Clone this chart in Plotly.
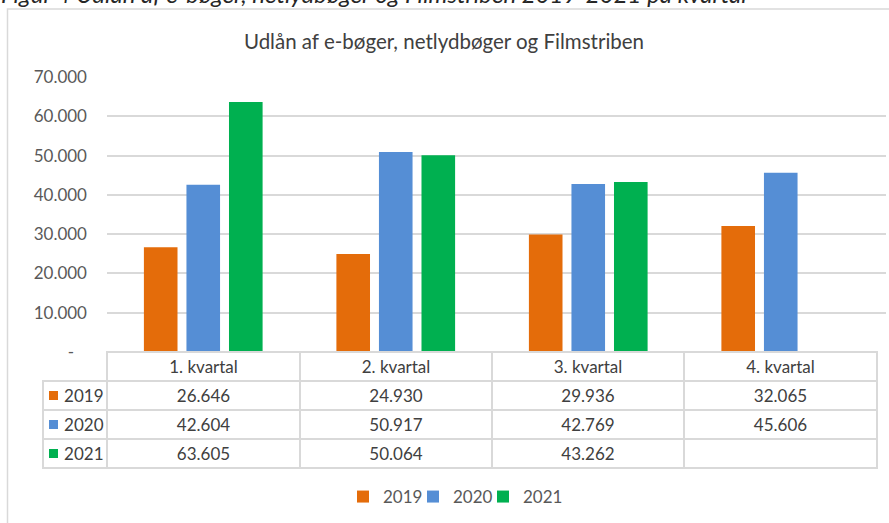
import plotly.graph_objects as go

quarters = ["1. kvartal", "2. kvartal", "3. kvartal", "4. kvartal"]
years = ["2019", "2020", "2021"]
v2019 = [26646, 24930, 29936, 32065]
v2020 = [42604, 50917, 42769, 45606]
v2021 = [63605, 50064, 43262, None]
year_colors = ["#E46C0A", "#558ED5", "#00B050"]
ytick_vals = [0, 10000, 20000, 30000, 40000, 50000, 60000, 70000]

series = [v2019, v2020, v2021]


def fmt(v):
    if v is None:
        return ""
    return f"{v:,}".replace(",", ".")


ytick_text = ["-\u00a0\u00a0\u00a0" if t == 0 else fmt(t) for t in ytick_vals]

FONT = "Lato, 'Open Sans', sans-serif"
GRID = "#D9D9D9"
TXT = "#404040"
FS = 17
CLEAR = "rgba(0,0,0,0)"

# ---- layout geometry (pixels in the 889x523 page) ----
W, H = 889, 523
ML, MR, MT, MB = 43, 3, 77, 54
plot_left_px, table_right_px = 107, 877
plot_bottom_px = 352
row_top_px, row_bottom_px = 381, 468
swatch_px = 53.5
paper_w = W - ML - MR
paper_h = H - MT - MB


def px_x(p):
    return (p - ML) / paper_w


def px_y(p):
    return (H - MB - p) / paper_h


x_dom0 = px_x(plot_left_px)
tab_x1 = px_x(table_right_px)
y_dom0 = px_y(plot_bottom_px)
cat_w = (table_right_px - plot_left_px) / len(quarters)
x_range = [-0.5, len(quarters) - 0.5 + (W - MR - table_right_px) / cat_w]

fig = go.Figure()
for name, vals, col in zip(years, series, year_colors):
    fig.add_trace(go.Bar(x=quarters, y=vals, name=name, marker_color=col,
                         marker_line_width=0, xaxis="x", yaxis="y",
                         legendwidth=45 if name == years[-1] else None))

# colour swatches of the data-table legend column
fig.add_trace(go.Scatter(x=[0] * len(years), y=years, mode="markers",
                         marker=dict(symbol="square", size=9, color=year_colors,
                                     line=dict(width=0)),
                         xaxis="x2", yaxis="y2", showlegend=False,
                         hoverinfo="skip"))

# data table under the plot
cols = [years] + [[fmt(s[i]) for s in series] for i in range(len(quarters))]
fig.add_trace(go.Table(
    domain=dict(x=[0, tab_x1], y=[0, y_dom0]),
    columnwidth=[64, 193, 192, 192, 193],
    header=dict(values=[""] + quarters,
                fill=dict(color=[CLEAR] + ["white"] * 4),
                line=dict(color=[CLEAR] + [GRID] * 4, width=1.5),
                align="center", height=29,
                font=dict(family=FONT, size=FS, color=TXT)),
    cells=dict(values=cols, fill=dict(color=[CLEAR] + ["white"] * 4),
               line=dict(color=GRID, width=1.5),
               prefix=["\u00a0\u00a0\u00a0", "", "", "", ""],
               align=["left"] + ["center"] * 4, height=29,
               font=dict(family=FONT, size=FS, color=TXT)),
))

fig.update_layout(
    width=W, height=H,
    margin=dict(l=ML, r=MR, t=MT, b=MB, autoexpand=False),
    paper_bgcolor="white", plot_bgcolor="white",
    font=dict(family=FONT, size=FS, color="#595959"),
    title=dict(text="Udlån af e-bøger, netlydbøger og Filmstriben",
               x=444 / W, xanchor="center", xref="container",
               y=1 - 42 / H, yanchor="middle", yref="container",
               font=dict(family=FONT, size=20.5, color=TXT)),
    barmode="group", bargap=0.337, bargroupgap=0.21,
    xaxis=dict(domain=[x_dom0, 1], range=x_range, showticklabels=False,
               showgrid=False, zeroline=False, showline=False, ticks=""),
    yaxis=dict(domain=[y_dom0, 1], range=[0, 70000], tickvals=ytick_vals,
               ticktext=ytick_text, showgrid=True, gridcolor=GRID, gridwidth=1.5,
               zeroline=False, showline=False, ticks="", ticklabelstandoff=19,
               tickfont=dict(family=FONT, size=FS, color="#595959")),
    xaxis2=dict(domain=[0, x_dom0], range=[ML - swatch_px, plot_left_px - swatch_px],
                visible=False, anchor="y2"),
    yaxis2=dict(domain=[px_y(row_bottom_px), px_y(row_top_px)], type="category",
                categoryorder="array", categoryarray=years,
                range=[len(years) - 0.5, -0.5], visible=False, anchor="x2"),
    showlegend=True,
    legend=dict(orientation="h", xanchor="left", x=px_x(343),
                yanchor="middle", y=px_y(497),
                font=dict(family=FONT, size=FS, color="#595959"),
                itemwidth=30, entrywidth=25, traceorder="normal"),
    shapes=[dict(type="rect", xref="paper", yref="paper",
                 x0=px_x(7.5), x1=px_x(900), y0=px_y(540), y1=px_y(9),
                 line=dict(color=GRID, width=1.5), fillcolor=CLEAR,
                 layer="below")],
    annotations=[dict(text="<i>Figur 4 Udlån af e-bøger, netlydbøger og Filmstriben 2019-2021 på kvartal</i>",
                      xref="paper", yref="paper", x=px_x(-1), y=px_y(10),
                      xanchor="left", yanchor="bottom", showarrow=False,
                      font=dict(family=FONT, size=24, color="#262626"))],
)

fig.write_html("out.html", config={"displayModeBar": False},
               post_script="document.body.style.margin='0px';")
